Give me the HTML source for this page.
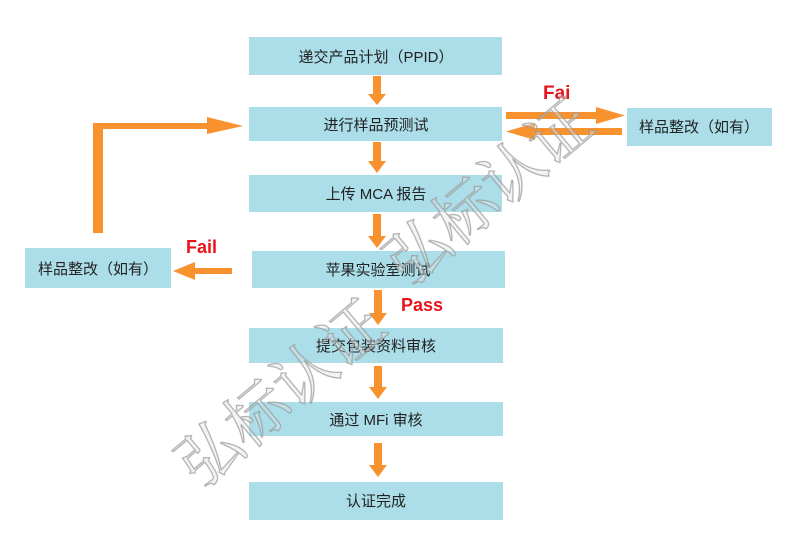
<!DOCTYPE html>
<html><head><meta charset="utf-8"><style>
body{margin:0;background:#fff;width:800px;height:555px;overflow:hidden;font-family:"Liberation Sans","Noto Sans CJK SC",sans-serif}
</style></head><body>
<svg width="800" height="555" xmlns="http://www.w3.org/2000/svg" style="position:absolute;left:0;top:0">
<g fill="#abdee8">
<rect x="249" y="37" width="253" height="38"/>
<rect x="249" y="107" width="253" height="34"/>
<rect x="249" y="175" width="253" height="37"/>
<rect x="252" y="251" width="253" height="37"/>
<rect x="249" y="328" width="254" height="35"/>
<rect x="249" y="402" width="254" height="34"/>
<rect x="249" y="482" width="254" height="38"/>
<rect x="627" y="108" width="145" height="38"/>
<rect x="25" y="248" width="146" height="40"/>
</g>
<g font-size="15" fill="#222" text-anchor="middle" font-family="Liberation Sans,Noto Sans CJK SC,sans-serif">
<text x="376" y="62">递交产品计划（PPID）</text>
<text x="376" y="130">进行样品预测试</text>
<text x="376" y="199">上传 MCA 报告</text>
<text x="378" y="275">苹果实验室测试</text>
<text x="376" y="351">提交包装资料审核</text>
<text x="376" y="425">通过 MFi 审核</text>
<text x="376" y="506">认证完成</text>
<text x="699" y="132">样品整改（如有）</text>
<text x="98" y="274">样品整改（如有）</text>
</g>
<g fill="#f7922e">
<rect x="373" y="76" width="8" height="20"/><polygon points="368,94 386,94 377,105"/>
<rect x="373" y="142" width="8" height="21"/><polygon points="368,161 386,161 377,173"/>
<rect x="373" y="214" width="8" height="24"/><polygon points="368,236 386,236 377,248"/>
<rect x="374" y="290" width="8" height="25"/><polygon points="369,313 387,313 378,325"/>
<rect x="374" y="366" width="8" height="23"/><polygon points="369,387 387,387 378,399"/>
<rect x="374" y="443" width="8" height="24"/><polygon points="369,465 387,465 378,477"/>
<rect x="506" y="112" width="92" height="7"/><polygon points="596,107 625,115.5 596,124"/>
<rect x="533" y="128" width="89" height="7"/><polygon points="535,123 506,131.5 535,140"/>
<rect x="93" y="123" width="10" height="110"/>
<rect x="93" y="123" width="116" height="6"/>
<polygon points="207,117 243,126 207,134"/>
<rect x="193" y="268" width="39" height="6"/><polygon points="195,262 173,271 195,280"/>
</g>
<g font-weight="bold" fill="#e8141b" font-family="Liberation Sans,sans-serif">
<text x="543" y="99" font-size="19">Fai</text>
<text x="186" y="253" font-size="18">Fail</text>
<text x="401" y="311" font-size="18">Pass</text>
</g>
<g font-family="Liberation Serif,Noto Serif CJK SC,serif" font-size="62" fill="#e4e4e4" fill-opacity="0.5" stroke="#9a9a9a" stroke-width="1.2" opacity="0.8">
<text transform="translate(200,490) rotate(-40)">弘标认证</text>
<text transform="translate(408,288) rotate(-40)">弘标认证</text>
</g>
</svg>
</body></html>
